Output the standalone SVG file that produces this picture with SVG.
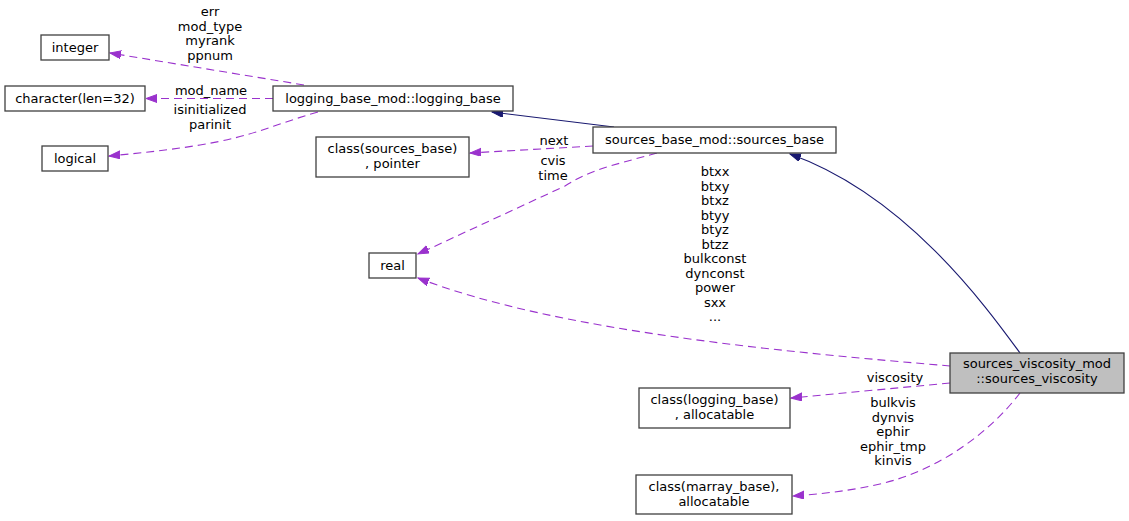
<svg xmlns="http://www.w3.org/2000/svg" width="1129" height="521" viewBox="0 0 1129 521">
<style>
.node rect{fill:#ffffff;stroke:#404040;stroke-width:1.3}
.main rect{fill:#bfbfbf}
text{font-family:"DejaVu Sans",sans-serif;font-size:13px;fill:#000;text-anchor:middle}
.dep{fill:none;stroke:#9a32cd;stroke-width:1.1;stroke-dasharray:8,5}
.inh{fill:none;stroke:#191970;stroke-width:1.1}
</style>
<defs>
<marker id="ap" markerUnits="userSpaceOnUse" markerWidth="12" markerHeight="10" refX="11" refY="4" orient="auto"><path d="M0,0 L11,4 L0,8 z" fill="#9a32cd" stroke="#9a32cd"/></marker>
<marker id="an" markerUnits="userSpaceOnUse" markerWidth="12" markerHeight="10" refX="11" refY="4" orient="auto"><path d="M0,0 L11,4 L0,8 z" fill="#191970" stroke="#191970"/></marker>
</defs>
<rect width="1129" height="521" fill="#ffffff"/>
<g id="connectors">
<path class="inh" d="M614,127 L492,112" marker-end="url(#an)"/>
<path class="inh" d="M1020,353 C985,305 905,195 790,154" marker-end="url(#an)"/>
<path class="dep" d="M304,85 L110,53" marker-end="url(#ap)"/>
<path class="dep" d="M273,98.5 L146,98.5" marker-end="url(#ap)"/>
<path class="dep" d="M318,112 C275,124 255,136 200,145 C170,150 140,153 109,156" marker-end="url(#ap)"/>
<path class="dep" d="M593,146 L470,153" marker-end="url(#ap)"/>
<path class="dep" d="M657,153 C610,166 590,170 565,186 L418,254" marker-end="url(#ap)"/>
<path class="dep" d="M950,366 C800,353 560,333 418,278" marker-end="url(#ap)"/>
<path class="dep" d="M950,383 L791,398" marker-end="url(#ap)"/>
<path class="dep" d="M1020,393 C990,432 940,470 880,484 C850,491 820,494 793,496" marker-end="url(#ap)"/>
</g>
<g id="edge-labels">
<text x="210" y="16">err</text>
<text x="210" y="30.5">mod_type</text>
<text x="210" y="45">myrank</text>
<text x="210" y="59.5">ppnum</text>
<text x="211" y="95">mod_name</text>
<text x="210" y="114">isinitialized</text>
<text x="210" y="128.5">parinit</text>
<text x="554" y="145">next</text>
<text x="553" y="165">cvis</text>
<text x="553" y="180">time</text>
<text x="715" y="176">btxx</text>
<text x="715" y="190.5">btxy</text>
<text x="715" y="205">btxz</text>
<text x="715" y="219.5">btyy</text>
<text x="715" y="234">btyz</text>
<text x="715" y="248.5">btzz</text>
<text x="715" y="263">bulkconst</text>
<text x="715" y="277.5">dynconst</text>
<text x="715" y="292">power</text>
<text x="715" y="306.5">sxx</text>
<text x="715" y="321">...</text>
<text x="895" y="382">viscosity</text>
<text x="893" y="407">bulkvis</text>
<text x="893" y="421.5">dynvis</text>
<text x="893" y="436">ephir</text>
<text x="893" y="450.5">ephir_tmp</text>
<text x="893" y="465">kinvis</text>
</g>
<g id="node-integer" class="node"><rect x="41" y="35" width="68" height="25"/><text x="75" y="52">integer</text></g>
<g id="node-character" class="node"><rect x="5" y="86" width="140" height="25"/><text x="75" y="103">character(len=32)</text></g>
<g id="node-logical" class="node"><rect x="42" y="146" width="66" height="25"/><text x="75" y="163">logical</text></g>
<g id="node-logging_base" class="node"><rect x="273" y="86" width="240" height="25"/><text x="393" y="103">logging_base_mod::logging_base</text></g>
<g id="node-class_sources_base" class="node"><rect x="316" y="137" width="153" height="40"/><text x="392.5" y="153">class(sources_base)</text><text x="392.5" y="168">, pointer</text></g>
<g id="node-sources_base" class="node"><rect x="593" y="127" width="243" height="26"/><text x="714.5" y="144">sources_base_mod::sources_base</text></g>
<g id="node-real" class="node"><rect x="369" y="253" width="47" height="25"/><text x="392.5" y="270">real</text></g>
<g id="node-sources_viscosity" class="node main"><rect x="950" y="353" width="174" height="40"/><text x="1037" y="368">sources_viscosity_mod</text><text x="1037" y="383">::sources_viscosity</text></g>
<g id="node-class_logging_base" class="node"><rect x="639" y="388" width="151" height="40"/><text x="714.5" y="404">class(logging_base)</text><text x="714.5" y="419">, allocatable</text></g>
<g id="node-class_marray_base" class="node"><rect x="636" y="475" width="156" height="39"/><text x="714" y="491">class(marray_base),</text><text x="714" y="506">allocatable</text></g>
</svg>
